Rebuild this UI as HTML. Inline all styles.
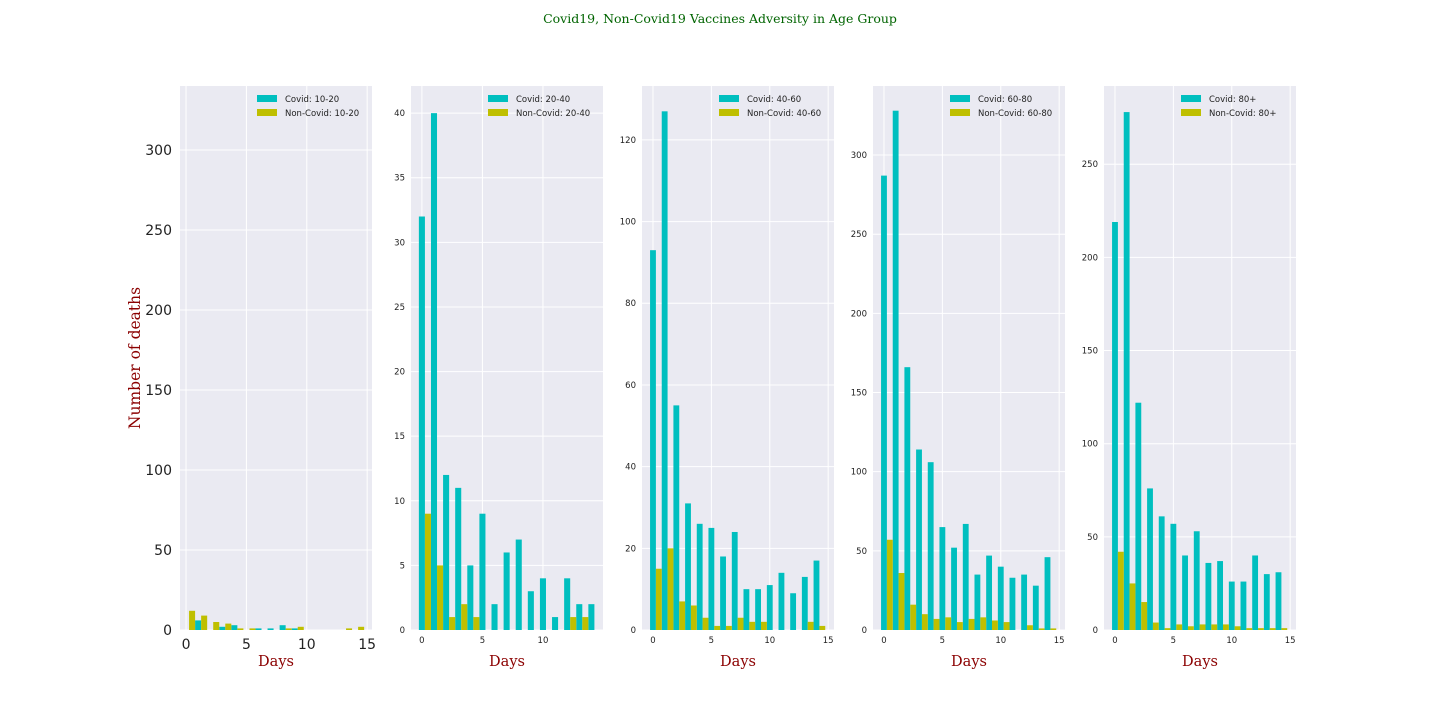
<!DOCTYPE html>
<html><head><meta charset="utf-8"><style>
body{margin:0;background:#fff;}
svg{display:block;font-family:"DejaVu Sans","Liberation Sans",sans-serif;}
</style></head><body>
<svg id="chart" width="1440" height="720">
<text x="720" y="23" text-anchor="middle" font-family="DejaVu Serif,serif" font-size="12.5" fill="#006400">Covid19, Non-Covid19 Vaccines Adversity in Age Group</text>
<text transform="translate(140,358) rotate(-90)" text-anchor="middle" font-family="DejaVu Serif,serif" font-size="15.5" fill="#8b0000">Number of deaths</text>
</svg>
<script>
const groups = ["10-20","20-40","40-60","60-80","80+"];
const covid1 = [6,0,2,3,0,1,1,3,1,0,0,0,0,0,0];
const non1 = [12,9,5,4,1,1,0,0,1,2,0,0,0,1,2];
const covid2 = [32,40,12,11,5,9,2,6,7,3,4,1,4,2,2];
const non2 = [9,5,1,2,1,0,0,0,0,0,0,0,1,1,0];
const covid3 = [93,127,55,31,26,25,18,24,10,10,11,14,9,13,17];
const non3 = [15,20,7,6,3,1,1,3,2,2,0,0,0,2,1];
const covid4 = [287,328,166,114,106,65,52,67,35,47,40,33,35,28,46];
const non4 = [57,36,16,10,7,8,5,7,8,6,5,0,3,1,1];
const covid5 = [219,278,122,76,61,57,40,53,36,37,26,26,40,30,31];
const non5 = [42,25,15,4,1,3,2,3,3,3,2,1,1,1,1];
const yTicks1 = [0,50,100,150,200,250,300];
const yTicks2 = [0,5,10,15,20,25,30,35,40];
const yTicks3 = [0,20,40,60,80,100,120];
const yTicks4 = [0,50,100,150,200,250,300];
const yTicks5 = [0,50,100,150,200,250];
const xTicks = [0,5,10,15];
const xTicks2 = [0,5,10];

const NS="http://www.w3.org/2000/svg";
const svg=document.getElementById('chart');
function mk(tag,attrs,parent){const e=document.createElementNS(NS,tag);for(const k in attrs)e.setAttribute(k,attrs[k]);(parent||svg).appendChild(e);return e;}

const panels=[
 {x0:180,x1:372,xmin:-0.5,xmax:15.4,ymax:340,cv:covid1,nc:non1,yt:yTicks1,xt:xTicks,big:true,off:[0.75,0.25]},
 {x0:411,x1:603,xmin:-0.9,xmax:14.96,ymax:42.1,cv:covid2,nc:non2,yt:yTicks2,xt:xTicks2,big:false,off:[-0.25,0.25]},
 {x0:642,x1:834,xmin:-0.94,xmax:15.5,ymax:133.2,cv:covid3,nc:non3,yt:yTicks3,xt:xTicks,big:false,off:[-0.25,0.25]},
 {x0:873,x1:1065,xmin:-0.94,xmax:15.5,ymax:343.6,cv:covid4,nc:non4,yt:yTicks4,xt:xTicks,big:false,off:[-0.25,0.25]},
 {x0:1104,x1:1296,xmin:-0.94,xmax:15.5,ymax:292,cv:covid5,nc:non5,yt:yTicks5,xt:xTicks,big:false,off:[-0.25,0.25]}
];
const Y0=630,Y1=86;
panels.forEach((p,i)=>{
 const g=mk('g',{});
 
 
 const sx=v=>p.x0+(v-p.xmin)/(p.xmax-p.xmin)*(p.x1-p.x0);
 const sy=v=>Y0-v/p.ymax*(Y0-Y1);
 const bg=mk('rect',{x:p.x0,y:Y1,width:p.x1-p.x0,height:Y0-Y1,fill:'#eaeaf2'},g);
 
 
 const fs=p.big?14:8.5;
 p.yt.forEach(t=>{
  const y=sy(t);
  mk('line',{x1:p.x0,x2:p.x1,y1:y,y2:y,stroke:'#fff','stroke-width':1},g);
  const tx=mk('text',{x:p.x0-(p.big?8:6),y:y+fs*0.35,'text-anchor':'end','font-size':fs,fill:'#222'},g);
  tx.textContent=t;
  
  
 });
 p.xt.forEach(t=>{
  const x=sx(t);
  mk('line',{x1:x,x2:x,y1:Y1,y2:Y0,stroke:'#fff','stroke-width':1},g);
  const tx=mk('text',{x:x,y:Y0+(p.big?19:13),'text-anchor':'middle','font-size':fs,fill:'#222'},g);
  tx.textContent=t;
  
  
 });
 const w=sx(0.5)-sx(0);
 p.cv.forEach((v,d)=>{
  if(!v)return;
  const r=mk('rect',{x:sx(d+p.off[0]),y:sy(v),width:w,height:Y0-sy(v),fill:'#00bfbf'},g);
  
  
 });
 p.nc.forEach((v,d)=>{
  if(!v)return;
  const r=mk('rect',{x:sx(d+p.off[1]),y:sy(v),width:w,height:Y0-sy(v),fill:'#bfbf00'},g);
  
  
 });
 const lx=p.x0+77;
 [['#00bfbf','Covid: '+groups[i]],['#bfbf00','Non-Covid: '+groups[i]]].forEach((e,k)=>{
  const lg=mk('g',{},g);
  
  
  mk('rect',{x:lx,y:95+k*14,width:20,height:7,fill:e[0]},lg);
  const t=mk('text',{x:lx+28,y:102+k*14,'font-size':8.5,fill:'#222'},lg);
  t.textContent=e[1];
 });
 const xl=mk('text',{x:(p.x0+p.x1)/2,y:666,'text-anchor':'middle','font-family':'DejaVu Serif,serif','font-size':14.5,fill:'#8b0000'},g);
 xl.textContent='Days';
 
 
});
</script>
</body></html>
